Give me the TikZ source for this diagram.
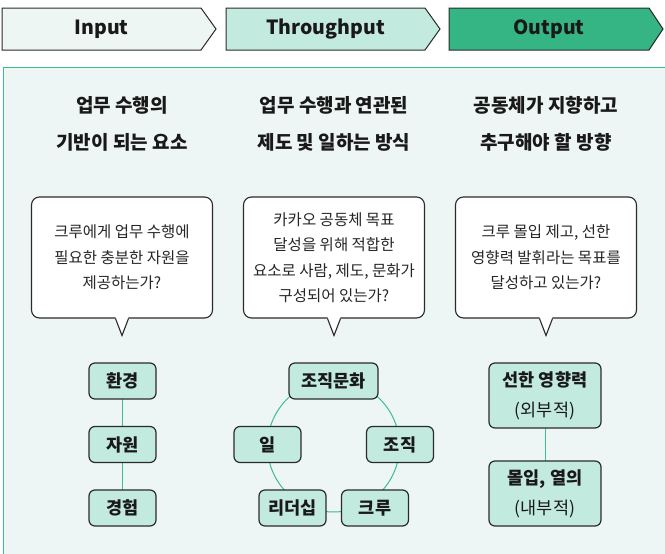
\documentclass[tikz,border=0pt]{standalone}
\usepackage{fontspec}
\setmainfont{Noto Sans CJK KR}
\usepackage{tikz}
\usetikzlibrary{calc}
\definecolor{panelbg}{HTML}{EDF6F4}
\definecolor{panelln}{HTML}{3DBE8B}
\definecolor{inbg}{HTML}{EEF6F4}
\definecolor{thbg}{HTML}{C3EADF}
\definecolor{outbg}{HTML}{35B583}
\definecolor{boxbg}{HTML}{C3EADF}
\definecolor{edge}{HTML}{2B2B2B}

\begin{document}
\begin{tikzpicture}[x=1pt,y=-1pt,
  hdr/.style={font=\bfseries\fontsize{19.5}{22}\selectfont,text=black!90},
  head/.style={align=center,font=\bfseries\fontsize{19}{37}\selectfont,text=black!90},
  bubble/.style={draw=edge,line width=1.1pt,fill=white,rounded corners=8pt,
    minimum width=181pt,minimum height=121pt,align=center,
    font=\fontsize{15.5}{25.5}\selectfont,text=black!85},
  qbox/.style={draw=edge,line width=1.2pt,fill=boxbg,rounded corners=6pt,
    minimum width=67pt,minimum height=36pt,inner sep=2pt,
    font=\bfseries\fontsize{17.5}{20}\selectfont,text=black!90},
  wbox/.style={qbox,minimum width=112pt,minimum height=65pt,align=center,
    font=\fontsize{17.5}{30}\selectfont},
  link/.style={draw=panelln,line width=1pt}]
  \useasboundingbox (0,0) rectangle (665,554);
  \fill[white] (0,0) rectangle (665,554);
  % panel
  \draw[panelln,fill=panelbg,line width=1pt] (3,67) rectangle (667,560);
  % header chevrons
  \foreach \xa/\xb/\xc/\col in {2/201/216/inbg,226/425/440/thbg,449/649/663/outbg}
    \draw[edge,line width=1pt,fill=\col] (\xa,8) -- (\xb,8) -- (\xc,29) -- (\xb,50) -- (\xa,50) -- cycle;
  \node[hdr] (hin) at (101.5,29) {Input};
  \node[hdr] (hthr) at (325.5,29) {Throughput};
  \node[hdr] (hout) at (549,29) {Output};
  % headings
  \node[head] (t1) at (122,124) {업무 수행의\\기반이 되는 요소};
  \node[head] (t2) at (334,124) {업무 수행과 연관된\\제도 및 일하는 방식};
  \node[head] (t3) at (546,124) {공동체가 지향하고\\추구해야 할 방향};
  % speech bubbles
  \node[bubble] (b1) at (122,257.5) {크루에게 업무 수행에\\필요한 충분한 자원을\\제공하는가?};
  \node[bubble] (b2) at (334,257.5) {카카오 공동체 목표\\달성을 위해 적합한\\요소로 사람, 제도, 문화가\\구성되어 있는가?};
  \node[bubble] (b3) at (546,257.5) {크루 몰입 제고, 선한\\영향력 발휘라는 목표를\\달성하고 있는가?};
  \foreach \b in {b1,b2,b3} {
    \coordinate (\b tip) at ($(\b.south)+(0,17)$);
    \fill[white] ($(\b.south)+(-6.5,-1.5)$) -- (\b tip) -- ($(\b.south)+(6.5,-1.5)$) -- cycle;
    \draw[edge,line width=1.1pt] ($(\b.south)+(-6.5,0)$) -- (\b tip) -- ($(\b.south)+(6.5,0)$);
  }
  % input column
  \draw[link] (122,381) -- (122,508);
  \node[qbox] (env) at (122.5,381) {환경};
  \node[qbox] (res) at (122.5,444.5) {자원};
  \node[qbox] (exp) at (122.5,508) {경험};
  % throughput ring
  \draw[link] (333.5,446) circle (66);
  \node[qbox,minimum width=89pt] (cult) at (333.5,381) {조직문화};
  \node[qbox] (work) at (267.5,444.5) {일};
  \node[qbox] (org) at (400,444.5) {조직};
  \node[qbox] (lead) at (292.5,508) {리더십};
  \node[qbox] (crew) at (375,508) {크루};
  % output column
  \draw[link] (545,395) -- (545,494);
  \node[wbox] (good) at (545,395.5) {\textbf{선한 영향력}\\(외부적)};
  \node[wbox] (flow) at (545,493.5) {\textbf{몰입, 열의}\\(내부적)};
\end{tikzpicture}
\end{document}
